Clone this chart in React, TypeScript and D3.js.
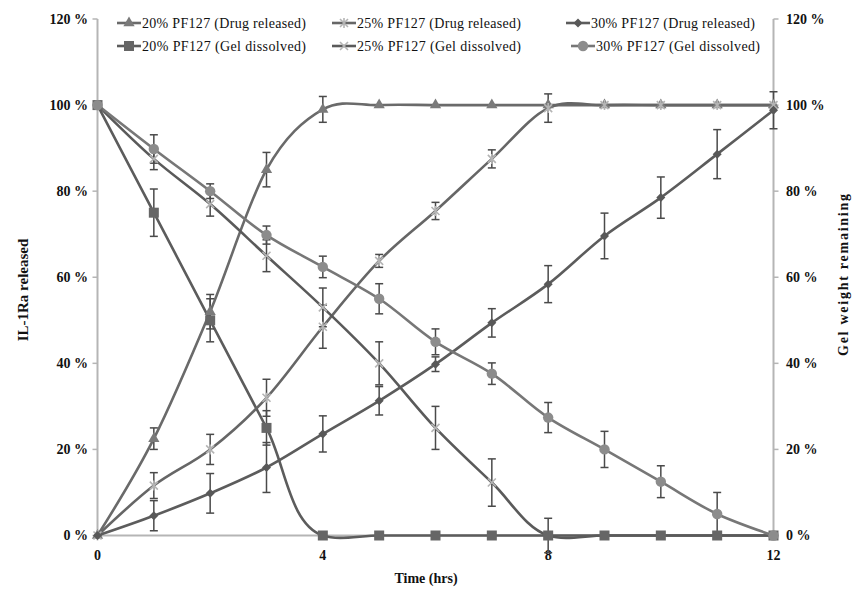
import React from "react";
import * as d3 from "d3";

// Sampling times (hours)
const hours = [0, 1, 2, 3, 4, 5, 6, 7, 8, 9, 10, 11, 12];

// Percent of IL-1Ra released / gel weight remaining, with standard deviations
const drug20 = [0, 22.5, 52, 85, 99, 100, 100, 100, 100, 100, 100, 100, 100];
const drug20Err = [0, 2.5, 4, 4, 3, 0, 0, 0, 0, 0, 0, 0, 0];
const gel20 = [100, 75, 50, 25, 0, 0, 0, 0, 0, 0, 0, 0, 0];
const gel20Err = [0, 5.5, 5, 4, 0, 0, 0, 0, 0, 0, 0, 0, 0];
const drug25 = [0, 11.6, 20, 32, 48.5, 63.8, 75.4, 87.5, 99.3, 100, 100, 100, 100];
const drug25Err = [0, 3, 3.5, 4.3, 5, 1.5, 2, 2.1, 3.3, 0, 0, 0, 0];
const gel25 = [100, 87.5, 77, 65, 53, 40, 25, 12.3, 0, 0, 0, 0, 0];
const gel25Err = [0, 2.5, 2.8, 3.7, 4.5, 5, 5, 5.5, 4, 0, 0, 0, 0];
const drug30 = [0, 4.6, 9.8, 15.8, 23.6, 31.3, 39.8, 49.4, 58.4, 69.6, 78.5, 88.6, 98.8];
const drug30Err = [0, 3.5, 4.6, 5.8, 4.2, 3.3, 1.7, 3.3, 4.3, 5.3, 4.8, 5.7, 4.3];
const gel30 = [100, 89.8, 80, 69.8, 62.4, 55, 45, 37.6, 27.4, 20, 12.5, 5, 0];
const gel30Err = [0, 3.3, 1.7, 2.1, 2.5, 3.5, 3, 2.5, 3.5, 4.2, 3.7, 5, 0];

const seriesNames = [
  "20% PF127 (Drug released)",
  "20% PF127 (Gel dissolved)",
  "25% PF127 (Drug released)",
  "25% PF127 (Gel dissolved)",
  "30% PF127 (Drug released)",
  "30% PF127 (Gel dissolved)",
];

const yTicks = [0, 20, 40, 60, 80, 100, 120];
const xTicks = [0, 4, 8, 12];

// Order in which marker layers are stacked (indices into series)
const markerOrder = [0, 2, 3, 1, 4, 5];

type Shape = "triangle" | "square" | "star" | "cross" | "diamond" | "circle";

interface Series {
  name: string;
  values: number[];
  errors: number[];
  shape: Shape;
  fill: string;
  line: string;
  chordal: boolean;
}

const series: Series[] = [
  { name: seriesNames[0], values: drug20, errors: drug20Err, shape: "triangle", fill: "#7a7a7a", line: "#6a6a6a", chordal: false },
  { name: seriesNames[1], values: gel20, errors: gel20Err, shape: "square", fill: "#666666", line: "#5c5c5c", chordal: true },
  { name: seriesNames[2], values: drug25, errors: drug25Err, shape: "star", fill: "#b4b4b4", line: "#666666", chordal: false },
  { name: seriesNames[3], values: gel25, errors: gel25Err, shape: "cross", fill: "#b4b4b4", line: "#5a5a5a", chordal: true },
  { name: seriesNames[4], values: drug30, errors: drug30Err, shape: "diamond", fill: "#585858", line: "#5c5c5c", chordal: false },
  { name: seriesNames[5], values: gel30, errors: gel30Err, shape: "circle", fill: "#8c8c8c", line: "#777777", chordal: true },
];

const W = 859;
const H = 590;
const x = d3.scaleLinear().domain([0, 12]).range([97.5, 773.5]);
const y = d3.scaleLinear().domain([0, 120]).range([535.5, 19]);

const serif = "'Liberation Serif', 'Times New Roman', serif";

function Marker({ shape, cx, cy, fill }: { shape: Shape; cx: number; cy: number; fill: string }) {
  const t = `translate(${cx},${cy})`;
  switch (shape) {
    case "triangle":
      return <path transform={t} d={d3.symbol(d3.symbolTriangle, 55)() || ""} fill={fill} />;
    case "square":
      return <rect x={cx - 5} y={cy - 5} width={10} height={10} fill={fill} />;
    case "diamond":
      return <path transform={t} d="M0,-4.5L4.5,0L0,4.5L-4.5,0Z" fill={fill} />;
    case "circle":
      return <circle cx={cx} cy={cy} r={5.2} fill={fill} />;
    case "star":
      return (
        <path
          transform={t}
          d="M-4,-4L4,4M-4,4L4,-4M0,-5L0,5"
          stroke={fill}
          strokeWidth={1.6}
          fill="none"
        />
      );
    case "cross":
      return (
        <path transform={t} d="M-4,-4L4,4M-4,4L4,-4" stroke={fill} strokeWidth={1.6} fill="none" />
      );
  }
}

export default function App() {
  const makeLine = (chordal: boolean) =>
    d3
      .line<number>()
      .x((_, i) => x(hours[i]))
      .y((v) => y(v))
      .curve(chordal ? d3.curveCatmullRom.alpha(1) : d3.curveCardinal.tension(0));

  const legendCols = [117, 332, 566];
  const legendRows = [23, 46];

  return (
    <svg
      width={W}
      height={H}
      style={{ position: "absolute", left: 0, top: 0, background: "#fff" }}
      fontFamily={serif}
    >
      {/* axes */}
      <line x1={x(0)} x2={x(0)} y1={y(120)} y2={y(0)} stroke="#b5b5b5" strokeWidth={2} />
      <line x1={x(12)} x2={x(12)} y1={y(120)} y2={y(0)} stroke="#b5b5b5" strokeWidth={2} />
      <line x1={x(0)} x2={x(12)} y1={y(0)} y2={y(0)} stroke="#b5b5b5" strokeWidth={2} />
      {yTicks.map((t) => (
        <g key={"yt" + t}>
          <line x1={x(0) - 5} x2={x(0)} y1={y(t)} y2={y(t)} stroke="#b5b5b5" strokeWidth={1.5} />
          <line x1={x(12)} x2={x(12) + 5} y1={y(t)} y2={y(t)} stroke="#b5b5b5" strokeWidth={1.5} />
          <text
            x={88}
            y={y(t)}
            dy="0.35em"
            textAnchor="end"
            fontSize={14}
            fontWeight="bold"
            fill="#111"
          >
            {t} %
          </text>
          <text x={786} y={y(t)} dy="0.35em" fontSize={14} fontWeight="bold" fill="#111">
            {t} %
          </text>
        </g>
      ))}
      {xTicks.map((t) => (
        <text
          key={"xt" + t}
          x={x(t)}
          y={555}
          dy="0.35em"
          textAnchor="middle"
          fontSize={14}
          fontWeight="bold"
          fill="#111"
        >
          {t}
        </text>
      ))}
      <text x={426} y={578} dy="0.35em" textAnchor="middle" fontSize={14} fontWeight="bold" fill="#111">
        Time (hrs)
      </text>
      <text
        transform="translate(23,290) rotate(-90)"
        textAnchor="middle"
        dy="0.35em"
        fontSize={15}
        fontWeight="bold"
        fill="#111"
      >
        IL-1Ra released
      </text>
      <text
        transform="translate(843,275) rotate(-90)"
        textAnchor="middle"
        dy="0.35em"
        fontSize={14}
        fontWeight="bold"
        fill="#111"
        textLength={162}
      >
        Gel weight remaining
      </text>

      {/* series lines */}
      {series.map((s) => (
        <path
          key={"l" + s.name}
          d={makeLine(s.chordal)(s.values) || ""}
          fill="none"
          stroke={s.line}
          strokeWidth={2.6}
        />
      ))}

      {/* error bars */}
      {series.map((s) =>
        s.values.map((v, i) =>
          s.errors[i] > 0 ? (
            <g key={"e" + s.name + i} stroke="#4a4a4a" strokeWidth={1.5}>
              <line x1={x(hours[i])} x2={x(hours[i])} y1={y(v + s.errors[i])} y2={y(v - s.errors[i])} />
              <line x1={x(hours[i]) - 4} x2={x(hours[i]) + 4} y1={y(v + s.errors[i])} y2={y(v + s.errors[i])} />
              <line x1={x(hours[i]) - 4} x2={x(hours[i]) + 4} y1={y(v - s.errors[i])} y2={y(v - s.errors[i])} />
            </g>
          ) : null
        )
      )}

      {/* markers */}
      {markerOrder.map((k) => {
        const s = series[k];
        return s.values.map((v, i) => (
          <Marker key={"m" + s.name + i} shape={s.shape} cx={x(hours[i])} cy={y(v)} fill={s.fill} />
        ));
      })}

      {/* legend */}
      {series.map((s, k) => {
        const col = Math.floor(k / 2);
        const row = k % 2;
        const lx = legendCols[col] + (row === 1 && col === 2 ? 5 : 0);
        const ly = legendRows[row];
        return (
          <g key={"lg" + s.name}>
            <line x1={lx} x2={lx + 24} y1={ly} y2={ly} stroke={s.line} strokeWidth={2.6} />
            <Marker shape={s.shape} cx={lx + 12} cy={ly} fill={s.fill} />
            <text x={lx + 25} y={ly} dy="0.35em" fontSize={14} fill="#111" textLength={164}>
              {s.name}
            </text>
          </g>
        );
      })}
    </svg>
  );
}
